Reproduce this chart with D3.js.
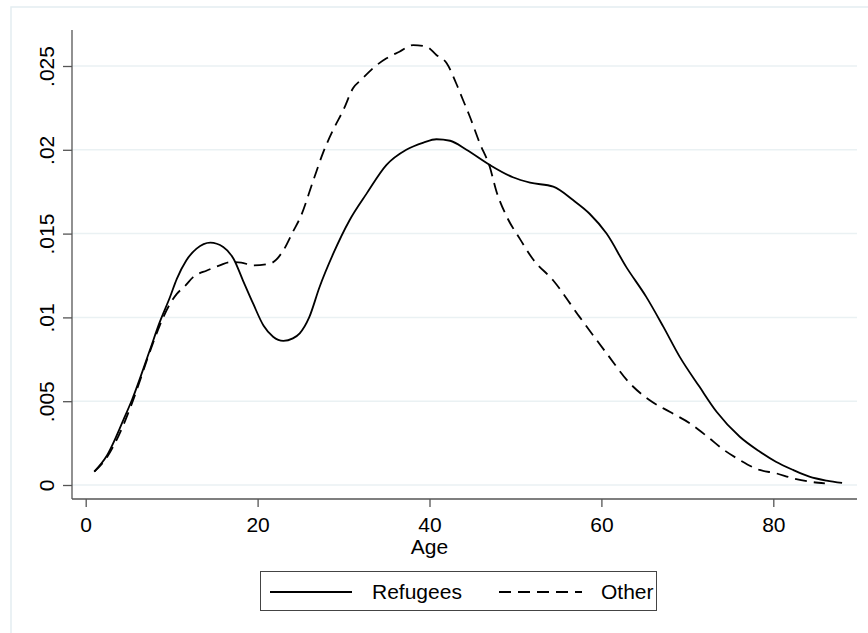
<!DOCTYPE html>
<html>
<head>
<meta charset="utf-8">
<script src="https://cdn.jsdelivr.net/npm/d3@7"></script>
<style>
  html, body { margin: 0; padding: 0; background: #fff; }
  svg { display: block; font-family: "Liberation Sans", Arial, sans-serif; }
</style>
</head>
<body>
<svg id="chart" width="868" height="633"></svg>
<script>
// ---- Data (kernel density of age) ----
const refugeesAge = [1, 2.4, 4.4, 5.4, 7.5, 8.6, 9.8, 10.6, 11.7, 12.9, 14.5, 16.0, 17.2, 18.3, 19.5, 20.7, 21.8, 23.0, 24.1, 24.9, 26.0, 27.2, 28.8, 30.7, 32.7, 35.0, 37.3, 39.3, 40.8, 42.4, 44.3, 47.0, 49.7, 51.7, 54.4, 56.7, 58.6, 60.6, 62.9, 65.2, 67.2, 69.1, 71.4, 73.4, 76.1, 78.4, 80.3, 82.3, 84.2, 86.2, 88];
const refugeesDensity = [0.0008, 0.0017, 0.0039, 0.0051, 0.0081, 0.0097, 0.0112, 0.0123, 0.0134, 0.0141, 0.01446, 0.0142, 0.0135, 0.0122, 0.0108, 0.0095, 0.00885, 0.0086, 0.00875, 0.00905, 0.0100, 0.0118, 0.0138, 0.0158, 0.0174, 0.0191, 0.0200, 0.02043, 0.02063, 0.02054, 0.0200, 0.0191, 0.01836, 0.01804, 0.0178, 0.0170, 0.0162, 0.0150, 0.0130, 0.01124, 0.00945, 0.00766, 0.00587, 0.00437, 0.00288, 0.00200, 0.00139, 0.00090, 0.0005, 0.00026, 0.00012];

const otherAge = [1, 2.4, 4.4, 5.4, 7.5, 8.6, 9.8, 10.6, 11.6, 12.5, 14.1, 15.6, 16.8, 18.1, 19.5, 21.4, 23.0, 24.1, 25.0, 26.5, 27.6, 28.8, 30.0, 31.1, 32.1, 33.4, 35.0, 36.5, 38.1, 39.65, 40.8, 42.0, 43.1, 43.9, 44.7, 45.85, 47.0, 47.8, 49.0, 50.5, 52.0, 54.4, 57.5, 60.6, 63.3, 65.5, 68.0, 70.3, 72.3, 74.1, 76.1, 78.4, 80.3, 82.3, 84.2, 86];
const otherDensity = [0.0008, 0.0016, 0.0036, 0.0049, 0.0080, 0.0095, 0.0108, 0.0114, 0.0119, 0.0124, 0.0128, 0.0131, 0.0133, 0.01327, 0.0131, 0.0132, 0.0140, 0.0151, 0.0160, 0.0182, 0.0198, 0.0212, 0.0224, 0.02367, 0.0242, 0.02486, 0.02546, 0.02585, 0.02625, 0.02615, 0.02566, 0.02516, 0.02397, 0.02297, 0.02197, 0.02039, 0.0190, 0.0175, 0.0160, 0.0147, 0.0135, 0.0122, 0.0100, 0.00786, 0.00607, 0.00510, 0.00435, 0.00368, 0.00290, 0.00215, 0.00149, 0.0009, 0.0007, 0.0004, 0.0002, 0.0001];

const xTicks = [0, 20, 40, 60, 80];
const yTicks = [0, 0.005, 0.01, 0.015, 0.02, 0.025];
const yTickLabels = ["0", ".005", ".01", ".015", ".02", ".025"];
const seriesNames = ["Refugees", "Other"];
const xTitle = "Age";

// ---- Layout ----
const svg = d3.select("#chart");
const plotLeft = 72, plotRight = 857, plotTop = 30, plotBottom = 499;
const fs = 21;

const x = d3.scaleLinear().domain([0, 80]).range([85.7, 773.3]);
const y = d3.scaleLinear().domain([0, 0.025]).range([485, 66]);

// outer graph region frame
svg.append("rect")
  .attr("x", 11).attr("y", 7).attr("width", 900).attr("height", 700)
  .attr("fill", "#fff").attr("stroke", "#e4edf1").attr("stroke-width", 1.5);

// gridlines
svg.append("g").selectAll("line").data(yTicks).join("line")
  .attr("x1", plotLeft).attr("x2", plotRight)
  .attr("y1", d => y(d)).attr("y2", d => y(d))
  .attr("stroke", "#eaf1f3").attr("stroke-width", 1.5);

// y axis
const yAxis = d3.axisLeft(y).tickValues(yTicks)
  .tickFormat((d, i) => yTickLabels[i]).tickSize(9).tickSizeOuter(0);
const gy = svg.append("g").attr("transform", `translate(${plotLeft},0)`).call(yAxis);
gy.select(".domain").remove();
gy.selectAll(".tick line").attr("stroke", "#555").attr("stroke-width", 1.3);
gy.selectAll(".tick text")
  .attr("font-size", fs).attr("fill", "#000")
  .attr("text-anchor", "middle")
  .attr("transform", "rotate(-90)")
  .attr("x", 0).attr("y", -18).attr("dy", 0);
svg.append("line").attr("x1", plotLeft).attr("x2", plotLeft)
  .attr("y1", plotTop).attr("y2", plotBottom)
  .attr("stroke", "#555").attr("stroke-width", 1.3);

// x axis
const xAxis = d3.axisBottom(x).tickValues(xTicks).tickSize(8).tickSizeOuter(0);
const gx = svg.append("g").attr("transform", `translate(0,${plotBottom})`).call(xAxis);
gx.select(".domain").remove();
gx.selectAll(".tick line").attr("stroke", "#555").attr("stroke-width", 1.3);
gx.selectAll(".tick text").attr("font-size", fs).attr("fill", "#000")
  .attr("y", 33).attr("dy", 0);
svg.append("line").attr("x1", plotLeft).attr("x2", plotRight)
  .attr("y1", plotBottom).attr("y2", plotBottom)
  .attr("stroke", "#555").attr("stroke-width", 1.3);

svg.append("text").attr("x", x(40)).attr("y", 554)
  .attr("text-anchor", "middle").attr("font-size", fs).attr("fill", "#000")
  .text(xTitle);

// curves
const line = d3.line().x(d => x(d[0])).y(d => y(d[1])).curve(d3.curveMonotoneX);
const refData = d3.zip(refugeesAge, refugeesDensity);
const othData = d3.zip(otherAge, otherDensity);
const dash = "12,7";

svg.append("path").datum(othData).attr("d", line)
  .attr("fill", "none").attr("stroke", "#000").attr("stroke-width", 1.8)
  .attr("stroke-dasharray", dash);
svg.append("path").datum(refData).attr("d", line)
  .attr("fill", "none").attr("stroke", "#000").attr("stroke-width", 1.8);

// legend
const lg = svg.append("g");
lg.append("rect").attr("x", 260.5).attr("y", 571.5).attr("width", 396).attr("height", 39)
  .attr("fill", "#fff").attr("stroke", "#444").attr("stroke-width", 1);
lg.append("line").attr("x1", 270).attr("x2", 352).attr("y1", 592).attr("y2", 592)
  .attr("stroke", "#000").attr("stroke-width", 1.8);
lg.append("text").attr("x", 372).attr("y", 599).attr("font-size", fs).attr("fill", "#000")
  .text(seriesNames[0]);
lg.append("line").attr("x1", 499).attr("x2", 582).attr("y1", 592).attr("y2", 592)
  .attr("stroke", "#000").attr("stroke-width", 1.8).attr("stroke-dasharray", dash);
lg.append("text").attr("x", 601).attr("y", 599).attr("font-size", fs).attr("fill", "#000")
  .text(seriesNames[1]);
</script>
</body>
</html>
